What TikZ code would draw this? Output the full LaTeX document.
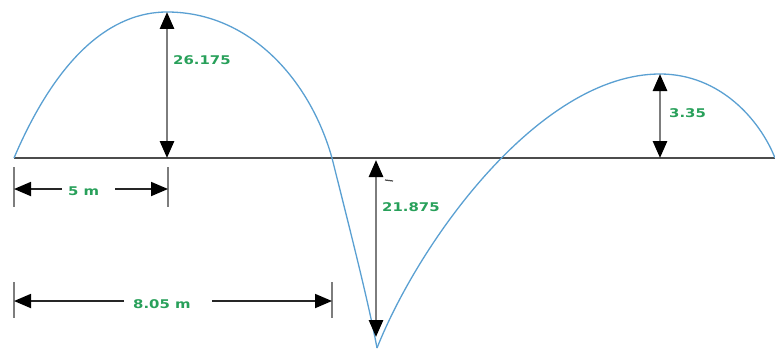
\documentclass[tikz,border=0pt]{standalone}
\usepackage{fontspec}
\setmainfont{DejaVu Sans}
\usepackage{graphicx}
\usetikzlibrary{arrows.meta}
\definecolor{lblgreen}{RGB}{40,160,90}
\definecolor{curveblue}{RGB}{90,160,210}
\definecolor{shaft}{RGB}{125,125,125}
\newcommand{\wlab}[1]{\scalebox{1.24}[1]{#1}}
\begin{document}
\begin{tikzpicture}[x=1pt,y=-1pt,
  curve/.style={curveblue, line width=1.3pt},
  base/.style={draw=black!70, line width=2pt},
  vdim/.style={shaft, line width=2.8pt, {Triangle[length=17pt,width=14pt,color=black]}-{Triangle[length=17pt,width=14pt,color=black]}},
  hdim/.style={black!85, line width=1.8pt},
  tickmark/.style={shaft, line width=2.8pt},
  lbl/.style={text=lblgreen, font=\fontsize{12}{14}\selectfont\bfseries, inner sep=0pt, anchor=west},
  htip/.style={-{Triangle[length=17pt,width=14pt,color=black]}},
]
\useasboundingbox (0,0) rectangle (775,353);
% key points
\coordinate (O) at (14,158);
\coordinate (P1) at (167,12);
\coordinate (X1) at (332,158);
\coordinate (B) at (377,348);
\coordinate (P2) at (660,74);
\coordinate (E) at (775,158);
% baseline
\draw[base] (O) -- (E);
% curves
\draw[curve] (O) .. controls (58,55) and (112,12) .. (P1)
  .. controls (250,12) and (310,80) .. (X1)
  .. controls (350,230) and (368,300) .. (B);
\draw[curve] (B) .. controls (420,240) and (540,74) .. (P2)
  .. controls (720,74) and (760,120) .. (E);
% vertical dimensions
\coordinate (h1b) at (167,158);
\draw[vdim] (h1b) -- (P1);
\node[lbl] (l1) at (173,60) {\wlab{26.175}};
\coordinate (h2t) at (376,160);
\coordinate (h2b) at (376,337);
\draw[vdim] (h2t) -- (h2b);
\coordinate (d1) at (385,180);
\coordinate (d2) at (393,181);
\draw[black!70, line width=1.2pt] (d1) -- (d2);
\node[lbl] (l2) at (382,207) {\wlab{21.875}};
\coordinate (h3b) at (660,158);
\draw[vdim] (h3b) -- (P2);
\node[lbl] (l3) at (669,113) {\wlab{3.35}};
% 5 m
\coordinate (t1a) at (14,167); \coordinate (t1b) at (14,207);
\coordinate (t2a) at (168,167); \coordinate (t2b) at (168,207);
\draw[tickmark] (t1a) -- (t1b);
\draw[tickmark] (t2a) -- (t2b);
\node[lbl] (l4) at (68,191) {\wlab{5 m}};
\coordinate (a1) at (14,189); \coordinate (a1e) at (62,189);
\coordinate (a2) at (168,189); \coordinate (a2s) at (115,189);
\draw[hdim, htip] (a1e) -- (a1);
\draw[hdim, htip] (a2s) -- (a2);
% 8.05 m
\coordinate (t3a) at (14,282); \coordinate (t3b) at (14,318);
\coordinate (t4a) at (332,282); \coordinate (t4b) at (332,318);
\draw[tickmark] (t3a) -- (t3b);
\draw[tickmark] (t4a) -- (t4b);
\node[lbl] (l5) at (133,304) {\wlab{8.05 m}};
\coordinate (b1) at (14,301); \coordinate (b1e) at (124,301);
\coordinate (b2) at (332,301); \coordinate (b2s) at (212,301);
\draw[hdim, htip] (b1e) -- (b1);
\draw[hdim, htip] (b2s) -- (b2);
\end{tikzpicture}
\end{document}
